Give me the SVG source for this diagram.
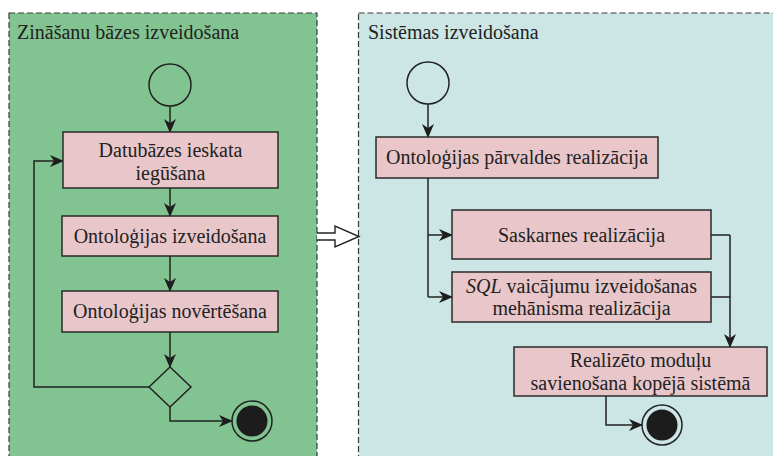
<svg xmlns="http://www.w3.org/2000/svg" width="773" height="456" viewBox="0 0 773 456">
<defs>
<marker id="ah" markerUnits="userSpaceOnUse" markerWidth="14" markerHeight="12" viewBox="0 0 14 12" refX="13" refY="6" orient="auto">
<path d="M0,0 L14,6 L0,12 L4,6 Z" fill="#1e1e1e"/>
</marker>
</defs>
<style>
.panel{stroke:#3a3a3a;stroke-width:1.2;stroke-dasharray:6 3}
.box{fill:#e8c6c9;stroke:#2a2a2a;stroke-width:1.5}
.t{font-family:"Liberation Serif","Times New Roman",serif;font-size:20px;fill:#222}
.c{text-anchor:middle}
.ln{fill:none;stroke:#222;stroke-width:1.5}
.arr{fill:none;stroke:#222;stroke-width:1.5;marker-end:url(#ah)}
.start{fill:none;stroke:#222;stroke-width:1.5}
</style>
<rect width="773" height="456" fill="#ffffff"/>
<g id="panel-left">
<rect class="panel" x="9" y="13" width="308" height="460" fill="#82c491"/>
<text class="t" x="17" y="39">Zināšanu bāzes izveidošana</text>
</g>
<g id="panel-right">
<rect class="panel" x="358.5" y="13" width="430" height="460" fill="#cce5e5"/>
<text class="t" x="368" y="39">Sistēmas izveidošana</text>
</g>
<g id="connectors">
<path class="arr" d="M170,106 V132"/>
<path class="arr" d="M170,188 V216"/>
<path class="arr" d="M170,256 V291"/>
<path class="arr" d="M170,332 V367"/>
<path class="arr" d="M149,387 H34 V161 H63"/>
<path class="arr" d="M170,407 V421 H232"/>
<path d="M317,233 H335 V226 L359,236.5 L335,247 V240 H317" fill="#ffffff" stroke="#222" stroke-width="1.4"/>
<path class="arr" d="M428,104 V137"/>
<path class="ln" d="M428,178 V297"/>
<path class="arr" d="M428,235 H452"/>
<path class="arr" d="M428,297 H452"/>
<path class="ln" d="M711,235 H730"/>
<path class="arr" d="M711,297 H730 V347"/>
<path class="ln" d="M730,235 V297"/>
<path class="arr" d="M606,396 V425 H642"/>
</g>
<g id="start-left"><circle class="start" cx="170" cy="85" r="21"/></g>
<g id="box-datubazes">
<rect class="box" x="63" y="132" width="215" height="56"/>
<text class="t c" x="170.5" y="157">Datubāzes ieskata</text>
<text class="t c" x="170.5" y="180">iegūšana</text>
</g>
<g id="box-izveidosana">
<rect class="box" x="62" y="216" width="216" height="40"/>
<text class="t c" x="170" y="243">Ontoloģijas izveidošana</text>
</g>
<g id="box-novertesana">
<rect class="box" x="62" y="291" width="216" height="41"/>
<text class="t c" x="170" y="318">Ontoloģijas novērtēšana</text>
</g>
<g id="decision">
<path d="M170,367 L191,387 L170,407 L149,387 Z" fill="none" stroke="#222" stroke-width="1.5"/>
</g>
<g id="end-left">
<circle cx="252" cy="421" r="20" fill="none" stroke="#222" stroke-width="1.5"/>
<circle cx="252" cy="421" r="15.5" fill="#1c1c1c"/>
</g>
<g id="start-right"><circle class="start" cx="428" cy="83" r="21"/></g>
<g id="box-parvaldes">
<rect class="box" x="376" y="137" width="282" height="41"/>
<text class="t c" x="517" y="164">Ontoloģijas pārvaldes realizācija</text>
</g>
<g id="box-saskarnes">
<rect class="box" x="452" y="210" width="259" height="49"/>
<text class="t c" x="581.5" y="241.5">Saskarnes realizācija</text>
</g>
<g id="box-sql">
<rect class="box" x="452" y="272" width="259" height="50"/>
<text class="t c" x="581.5" y="293"><tspan font-style="italic">SQL</tspan> vaicājumu izveidošanas</text>
<text class="t c" x="581.5" y="315">mehānisma realizācija</text>
</g>
<g id="box-savienosana">
<rect class="box" x="514" y="347" width="253" height="49"/>
<text class="t c" x="640.5" y="367">Realizēto moduļu</text>
<text class="t c" x="640.5" y="390">savienošana kopējā sistēmā</text>
</g>
<g id="end-right">
<circle cx="662" cy="425" r="20" fill="none" stroke="#222" stroke-width="1.5"/>
<circle cx="662" cy="425" r="15.5" fill="#1c1c1c"/>
</g>
</svg>
